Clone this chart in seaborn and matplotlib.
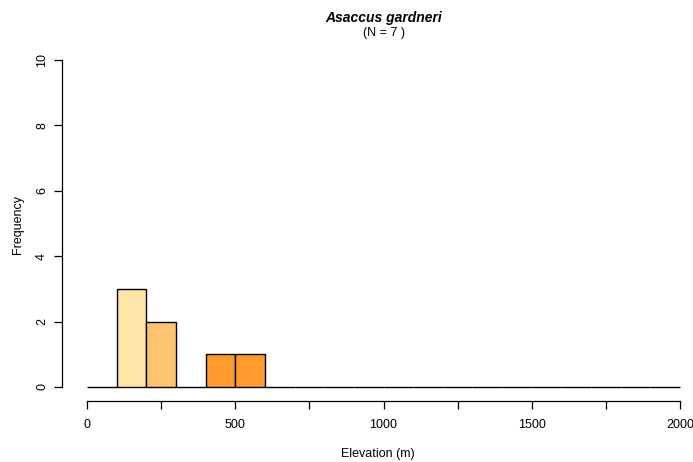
import matplotlib
matplotlib.use("Agg")
import matplotlib.pyplot as plt
import seaborn as sns

# elevation bins (m) and counts
bin_edges = list(range(0, 2100, 100))
bin_mids = [e + 50 for e in bin_edges[:-1]]
counts = [0, 3, 2, 0, 1, 1] + [0] * 14
bar_colors = {1: "#FEE4A6", 2: "#FEC36F", 4: "#FE9A2E", 5: "#FE9A2E"}

x_ticks = list(range(0, 2001, 250))
x_labels = ["0", "", "500", "", "1000", "", "1500", "", "2000"]
y_ticks = [0, 2, 4, 6, 8, 10]

species = "Asaccus gardneri"
n_obs = sum(counts)

sns.set_style("white")
plt.rcParams["font.family"] = ["Liberation Sans", "DejaVu Sans"]
plt.rcParams["text.color"] = "black"
plt.rcParams["axes.labelcolor"] = "black"
plt.rcParams["xtick.color"] = "black"
plt.rcParams["ytick.color"] = "black"

W, H = 693, 462
fig = plt.figure(figsize=(W / 100, H / 100), dpi=100)
ax = fig.add_axes([62 / W, 1 - 401 / H, (W - 62) / W, (401 - 47) / H])

sns.histplot(x=bin_mids, weights=counts, bins=bin_edges, ax=ax,
             color="white", edgecolor="black", linewidth=1.0, alpha=1)
for i, p in enumerate(ax.patches):
    p.set_facecolor(bar_colors.get(i, "white"))

ppx = 593 / 2000
ax.set_xlim(-25 / ppx, 2000 + 13 / ppx)
ppy = (387 - 60) / 10
ax.set_ylim(-14 / ppy, 10 + 13 / ppy)

for s in ["top", "right"]:
    ax.spines[s].set_visible(False)
ax.spines["bottom"].set_bounds(0, 2000)
ax.spines["left"].set_bounds(0, 10)
for s in ["bottom", "left"]:
    ax.spines[s].set_color("black")
    ax.spines[s].set_linewidth(0.9)

ax.set_xticks(x_ticks)
ax.set_xticklabels(x_labels)
ax.set_yticks(y_ticks)
ax.set_yticklabels([str(v) for v in y_ticks], rotation=90, va="center")
ax.tick_params(axis="both", direction="out", length=6, width=0.9,
               labelsize=9, bottom=True, left=True)
ax.tick_params(axis="x", pad=7)
ax.tick_params(axis="y", pad=4)

ax.set_xlabel("Elevation (m)", fontsize=9, labelpad=12)
ax.set_ylabel("Frequency", fontsize=9, labelpad=9)

fig.text(384 / W, 1 - 18 / H, species, ha="center", va="center",
         fontsize=10, fontweight="bold", fontstyle="italic")
fig.text(384 / W, 1 - 33 / H, f"(N = {n_obs} )", ha="center", va="center",
         fontsize=9)

fig.savefig("out.png", dpi=100)
